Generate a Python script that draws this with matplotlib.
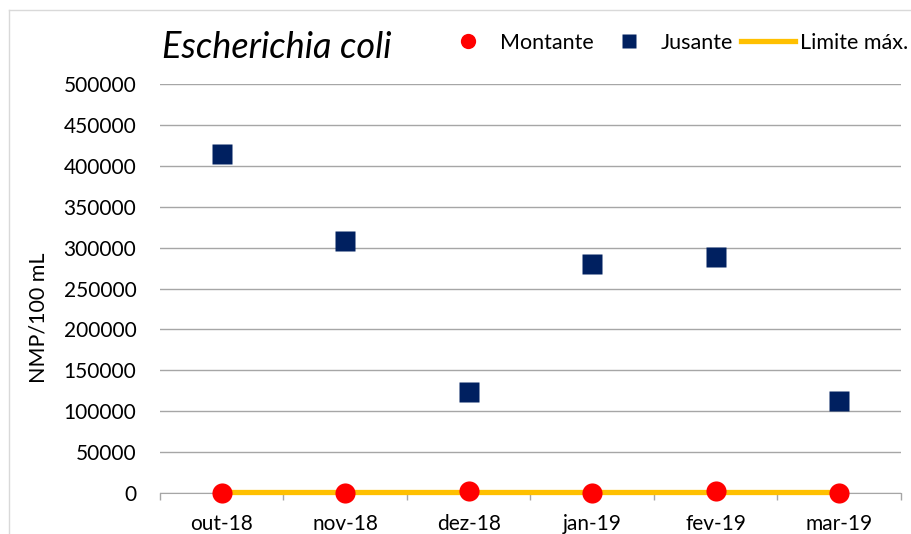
import numpy as np
import matplotlib
matplotlib.use("Agg")
import matplotlib.pyplot as plt
from matplotlib.lines import Line2D

plt.rcParams['font.family'] = ['Lato', 'DejaVu Sans']

# data
months = ["out-18", "nov-18", "dez-18", "jan-19", "fev-19", "mar-19"]
montante = [500, 500, 3000, 500, 2000, 500]
jusante = [414000, 308000, 123000, 280000, 289000, 112000]
limite = [1000, 1000, 1000, 1000, 1000, 1000]

yticks = list(range(0, 500001, 50000))

fig = plt.figure(figsize=(9.12, 5.34), dpi=100)
ax = fig.add_axes([160 / 912, 1 - 493 / 534, 741 / 912, 409 / 534])

x = np.arange(len(months))
ax.plot(x, limite, color="#FFC000", lw=3.8, zorder=3, solid_capstyle="butt",
        clip_on=False)
ax.plot(x, montante, "o", color="#FF0000", ms=14.5, mec="none", zorder=4,
        clip_on=False)
ax.plot(x, jusante, "s", color="#002060", ms=14, mec="none", zorder=4)

ax.set_xlim(-0.5, len(months) - 0.5)
ax.set_ylim(0, 500000)
ax.set_yticks(yticks)
ax.set_yticklabels([str(v) for v in yticks], fontsize=15)
ax.set_xticks(x)
ax.set_xticklabels(months, fontsize=15)
ax.set_xticks(np.arange(-0.5, len(months)), minor=True)
ax.tick_params(axis="x", which="major", length=0, pad=15)
ax.tick_params(axis="x", which="minor", length=5, color="#A6A6A6", width=1)
ax.tick_params(axis="y", length=0, pad=17)
ax.grid(axis="y", color="#A6A6A6", lw=1)
ax.set_axisbelow(True)
for s in ["top", "right", "left"]:
    ax.spines[s].set_visible(False)
ax.spines["bottom"].set_color("#A6A6A6")
ax.spines["bottom"].set_zorder(2)

fig.text(39 / 912, 1 - 317.5 / 534, "NMP/100 mL", fontsize=15.5,
         rotation=90, ha="center", va="center")

fig.text(162 / 912, 1 - 47 / 534, "Escherichia coli", fontsize=26,
         style="italic", va="center", ha="left")

handles = [
    Line2D([], [], ls="none", marker="o", color="#FF0000", ms=11, mec="none"),
    Line2D([], [], ls="none", marker="s", color="#002060", ms=10.5, mec="none"),
    Line2D([], [], color="#FFC000", lw=3.8),
]
fig.legend(handles, ["Montante", "Jusante", "Limite máx."], ncol=3,
           loc="center right", bbox_to_anchor=(1.0 - 4 / 912, 1 - 43 / 534),
           frameon=False, fontsize=15.5, handlelength=2.55, handletextpad=0.2,
           columnspacing=0.35, borderaxespad=0.0, borderpad=0.0)

# outer chart border (partly cropped in the reference)
fig.add_artist(Line2D([9.5 / 912, 9.5 / 912], [0, 1 - 10 / 534],
                      transform=fig.transFigure, color="#D9D9D9", lw=1))
fig.add_artist(Line2D([9.5 / 912, 1], [1 - 10 / 534, 1 - 10 / 534],
                      transform=fig.transFigure, color="#D9D9D9", lw=1))

fig.savefig("out.png", dpi=100)
